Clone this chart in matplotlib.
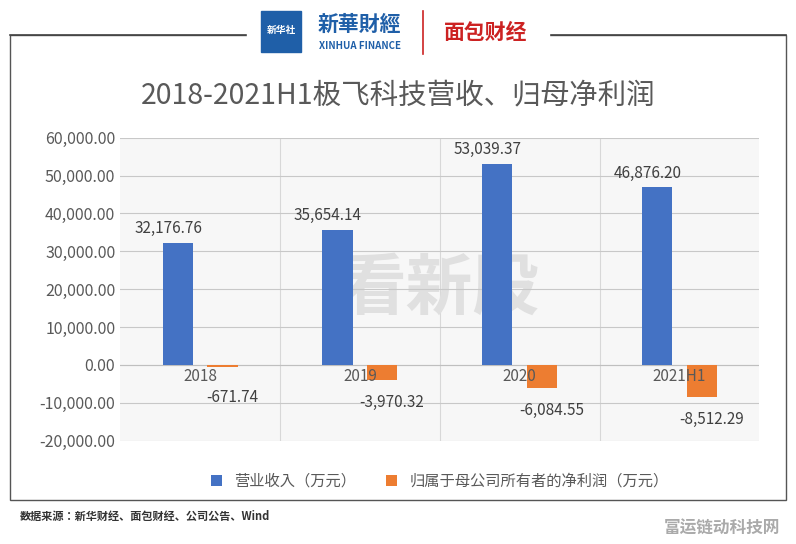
import matplotlib.pyplot as plt
import matplotlib.patches as mpatches
from matplotlib import font_manager
import numpy as np

cjk = sorted({f.name for f in font_manager.fontManager.ttflist if 'CJK' in f.name and 'Sans' in f.name})
pick = 'Noto Sans CJK SC' if 'Noto Sans CJK SC' in cjk else (cjk[0] if cjk else 'DejaVu Sans')
plt.rcParams['font.family'] = 'sans-serif'
plt.rcParams['font.sans-serif'] = [pick, 'DejaVu Sans']

years = ['2018', '2019', '2020', '2021H1']
revenue = [32176.76, 35654.14, 53039.37, 46876.20]
net_profit = [-671.74, -3970.32, -6084.55, -8512.29]

blue = '#4472C4'
orange = '#ED7D31'

fig = plt.figure(figsize=(7.96, 5.44), dpi=100)

# outer frame of the chart
frame = mpatches.Rectangle((0.012, 0.08), 0.976, 0.855, transform=fig.transFigure,
                           fill=False, edgecolor='#555555', linewidth=1)
fig.add_artist(frame)
fig.add_artist(plt.Line2D([0.012, 0.31], [0.935, 0.935], color='#444444', lw=1.2, transform=fig.transFigure))
fig.add_artist(plt.Line2D([0.69, 0.988], [0.935, 0.935], color='#444444', lw=1.2, transform=fig.transFigure))
fig.add_artist(mpatches.Rectangle((0.31, 0.89), 0.38, 0.11, transform=fig.transFigure,
                                  color='white', zorder=5))

# header branding
fig.add_artist(mpatches.Rectangle((0.328, 0.905), 0.05, 0.075, transform=fig.transFigure,
                                  color='#1f5fa8', zorder=6))
fig.text(0.353, 0.945, '新华社', color='white', fontsize=7, ha='center', va='center', fontweight='bold', zorder=7)
fig.text(0.452, 0.955, '新華財經', color='#1f5fa8', fontsize=15, ha='center', va='center', fontweight='bold', zorder=7)
fig.text(0.452, 0.915, 'XINHUA FINANCE', color='#1f5fa8', fontsize=7, ha='center', va='center', fontweight='bold', zorder=7)
fig.add_artist(plt.Line2D([0.532, 0.532], [0.9, 0.98], color='#cc2222', lw=1.2, transform=fig.transFigure, zorder=7))
fig.text(0.61, 0.94, '面包财经', color='#cc2222', fontsize=15, ha='center', va='center', fontweight='bold', zorder=7)

fig.text(0.5, 0.825, '2018-2021H1极飞科技营收、归母净利润', fontsize=20.5, color='#595959',
         ha='center', va='center')

ax = fig.add_axes([0.151, 0.19, 0.803, 0.557])
x = np.arange(len(years))
w = 0.19
ax.bar(x - 0.14, revenue, w, color=blue, zorder=3, label='营业收入（万元）')
ax.bar(x + 0.14, net_profit, w, color=orange, zorder=3, label='归属于母公司所有者的净利润（万元）')

for i in range(len(years)):
    ax.text(x[i] - 0.2, revenue[i] + 1500, f'{revenue[i]:,.2f}', fontsize=11,
            color='#404040', ha='center', va='bottom')
    ax.text(x[i] + 0.2, min(net_profit[i] - 6000, -8700), f'{net_profit[i]:,.2f}', fontsize=11,
            color='#404040', ha='center', va='center')
    ax.text(x[i], -800, years[i], fontsize=11, color='#595959', ha='center', va='top')

ax.set_xlim(-0.5, 3.5)
ax.set_ylim(-20000, 60000)
ax.set_yticks(np.arange(-20000, 60001, 10000))
ax.set_yticklabels([f'{v:,.2f}' for v in np.arange(-20000, 60001, 10000)],
                   fontsize=11.5, color='#595959')
ax.set_xticks([])
ax.set_facecolor('#f7f7f7')
ax.grid(axis='y', color='#c8c8c8', lw=0.8, zorder=0)
for xv in [0.5, 1.5, 2.5]:
    ax.axvline(xv, color='#d8d8d8', lw=0.8, zorder=0)
ax.axhline(0, color='#bfbfbf', lw=0.8, zorder=2)
for s in ax.spines.values():
    s.set_visible(False)
ax.tick_params(axis='y', length=0)

ax.text(0.5, 0.5, '看新股', transform=ax.transAxes, fontsize=48, color='#e0e0e0',
        ha='center', va='center', fontweight='bold', style='italic', zorder=1)

ax.legend(loc='upper center', bbox_to_anchor=(0.5, -0.06), ncol=2, frameon=False,
          fontsize=11, handlelength=0.7, handleheight=0.7, columnspacing=2,
          labelcolor='#595959')

fig.text(0.025, 0.05, '数据来源：新华财经、面包财经、公司公告、Wind', fontsize=8,
         color='#333333', fontweight='bold', va='center')
fig.text(0.98, 0.03, '富运链动科技网', fontsize=12, color='#aaaaaa', ha='right',
         va='center', fontweight='bold')

fig.savefig('out.png', dpi=100)
